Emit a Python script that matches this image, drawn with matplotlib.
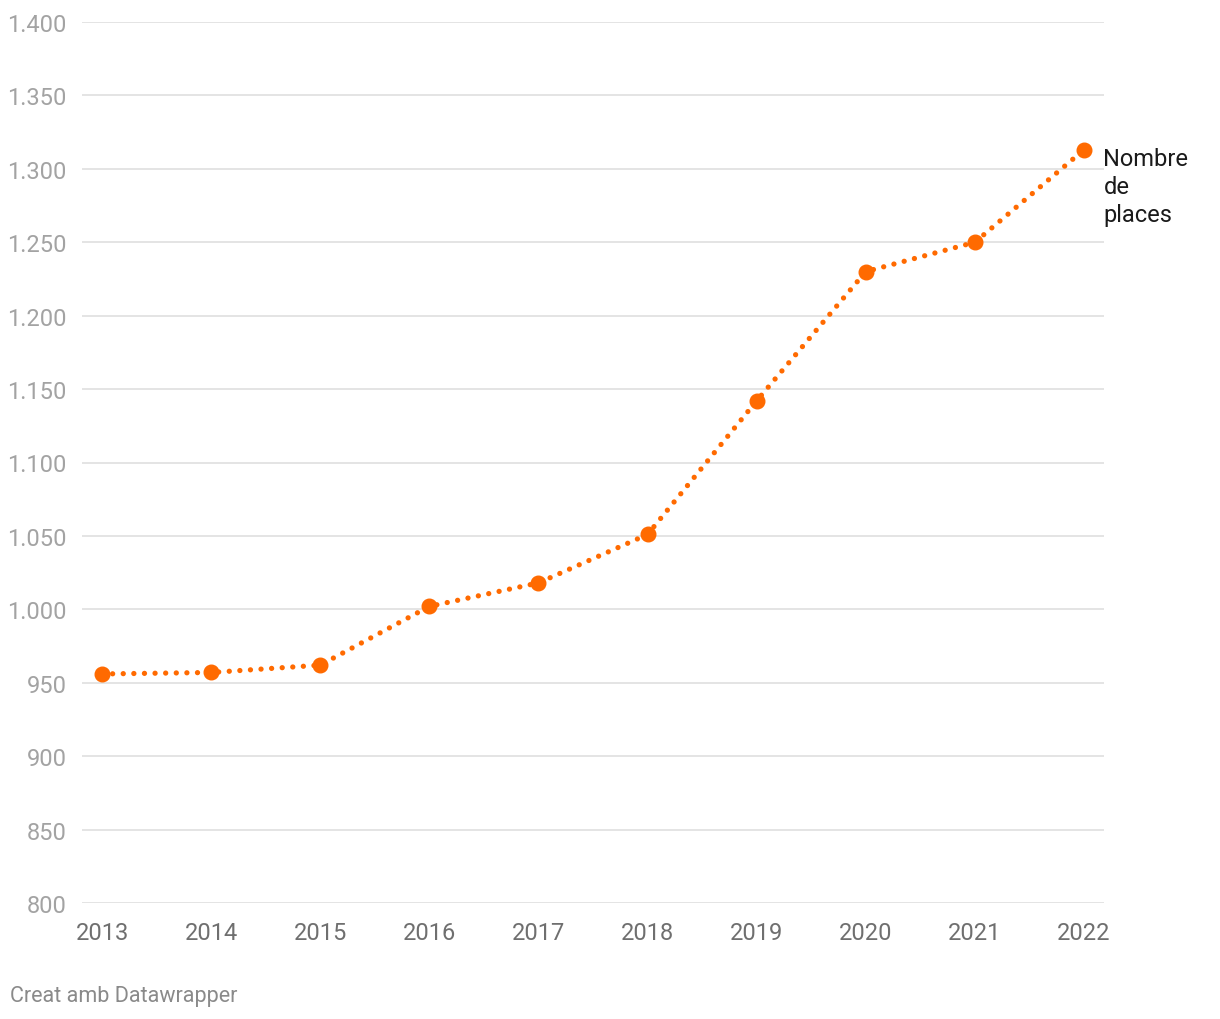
import matplotlib
matplotlib.use("Agg")
import matplotlib.pyplot as plt

# Data
years = [2013, 2014, 2015, 2016, 2017, 2018, 2019, 2020, 2021, 2022]
places = [956, 957, 962, 1002, 1018, 1051, 1142, 1230, 1250, 1313]
y_ticks = [800, 850, 900, 950, 1000, 1050, 1100, 1150, 1200, 1250, 1300, 1350, 1400]
y_labels = ["800", "850", "900", "950", "1.000", "1.050", "1.100", "1.150",
            "1.200", "1.250", "1.300", "1.350", "1.400"]
series_label = "Nombre\nde\nplaces"

orange = "#ff6a00"
plt.rcParams["font.family"] = ["Roboto", "DejaVu Sans"]

fig = plt.figure(figsize=(12.2, 10.2), dpi=100)
ax = fig.add_axes([82 / 1220, 1 - 904 / 1020, (1104 - 82) / 1220, (904 - 23) / 1020])

ax.plot(years, places, color=orange, lw=3.8, linestyle=(0, (0.01, 2.0)),
        dash_capstyle="round", zorder=3)
ax.plot(years, places, color=orange, lw=0, marker="o", markersize=10.5, zorder=4)

ax.set_xlim(2013 - 20 / 109.1, 2022 + 20 / 109.1)
ax.set_ylim(800, 1400)
ax.set_yticks(y_ticks)
ax.set_yticklabels(y_labels)
ax.set_xticks(years)
ax.set_xticklabels([str(y) for y in years])

ax.grid(axis="y", color="#e2e2e2", lw=1.3, zorder=0)
ax.grid(axis="x", visible=False)
for s in ax.spines.values():
    s.set_visible(False)
ax.tick_params(axis="both", length=0)
ax.tick_params(axis="y", labelsize=17, labelcolor="#a3a3a3", pad=11)
ax.tick_params(axis="x", labelsize=17, labelcolor="#6f6f6f", pad=13)

ax.annotate(series_label, xy=(years[-1], places[-1]), xytext=(14, 2),
            textcoords="offset points", fontsize=17, color="#1a1a1a",
            va="top", ha="left", linespacing=1.27, annotation_clip=False)

fig.text(10 / 1220, 1 - 997 / 1020, "Creat amb Datawrapper", fontsize=15.5,
         color="#8a8a8a", va="center", ha="left")

fig.savefig("out.png", dpi=100, facecolor="white")
